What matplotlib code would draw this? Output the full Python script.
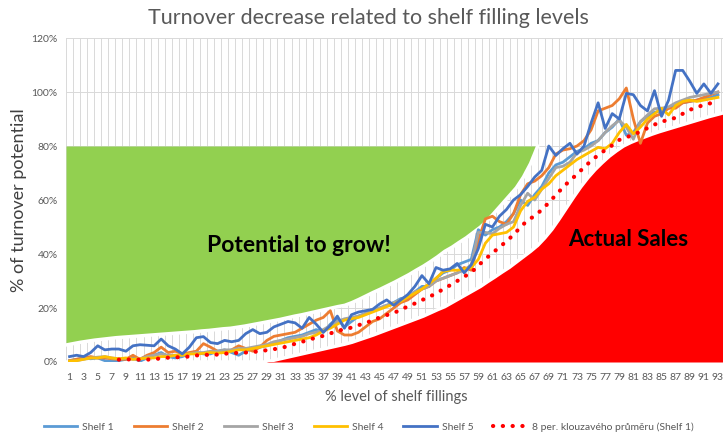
import numpy as np
import pandas as pd
import matplotlib
matplotlib.use("Agg")
import matplotlib.pyplot as plt
from matplotlib.lines import Line2D
from matplotlib.ticker import FuncFormatter

plt.rcParams["font.family"] = ["Lato", "DejaVu Sans"]

# --- data (values in % of turnover potential) ---
categories = list(range(1, 94))

shelf_1 = [0.5, 1.0, 1.5, 1.2, 1.5, 0.5, 0.3, 0.5, 1.0, 1.5,
           0.3, 1.5, 2.5, 3.5, 2.0, 1.5, 2.0, 3.0, 3.5, 3.0,
           3.0, 4.0, 4.5, 3.5, 2.5, 4.0, 5.0, 5.5, 6.0, 7.0,
           8.0, 9.0, 9.5, 10.0, 11.0, 12.0, 11.0, 14.0, 16.0, 13.0,
           15.0, 17.0, 18.0, 19.0, 20.0, 21.0, 22.0, 23.5, 24.0, 26.0,
           28.0, 28.0, 31.0, 33.0, 34.0, 36.0, 37.0, 38.0, 49.0, 47.0,
           49.0, 50.0, 52.0, 55.0, 60.0, 58.0, 62.0, 65.0, 70.0, 73.0,
           74.0, 76.0, 78.0, 79.0, 81.0, 82.0, 85.0, 87.0, 90.0, 84.0,
           85.0, 89.0, 91.0, 92.5, 93.0, 94.0, 95.0, 96.0, 96.5, 97.0,
           97.5, 98.0, 99.0]

shelf_2 = [0.5, 1.0, 1.5, 2.0, 1.5, 1.5, 1.2, 1.0, 1.0, 2.5,
           1.0, 2.5, 3.5, 5.5, 3.5, 4.0, 3.0, 3.5, 4.0, 6.8,
           5.5, 4.0, 3.5, 4.5, 6.0, 5.0, 4.0, 5.5, 8.0, 9.5,
           10.0, 10.5, 11.0, 12.5, 14.0, 15.5, 16.5, 19.0, 11.5, 10.0,
           10.0, 11.0, 13.0, 15.0, 16.0, 18.0, 20.0, 22.0, 23.0, 25.0,
           27.0, 28.0, 30.0, 31.0, 32.0, 33.0, 35.0, 34.0, 45.0, 53.0,
           54.0, 52.0, 51.0, 55.0, 62.0, 66.0, 67.0, 69.0, 72.0, 77.0,
           78.5, 79.0, 80.0, 82.0, 86.0, 93.0, 94.0, 95.0, 97.5, 101.5,
           90.0, 81.0, 88.5, 91.0, 92.0, 94.0, 94.0, 96.0, 96.5, 97.0,
           98.0, 99.0, 100.0]

shelf_3 = [0.3, 0.5, 1.0, 1.5, 1.8, 2.0, 1.5, 1.2, 1.3, 1.0,
           1.2, 2.0, 2.5, 3.0, 2.5, 2.5, 2.5, 3.0, 3.5, 3.5,
           4.0, 4.0, 4.5, 4.5, 5.0, 5.0, 5.5, 6.0, 6.5, 7.5,
           8.0, 8.5, 9.0, 9.5, 10.5, 11.0, 12.0, 13.5, 15.0, 16.0,
           16.5, 17.0, 18.0, 19.0, 20.0, 21.0, 22.0, 23.0, 24.5, 26.0,
           27.0, 28.0, 30.0, 31.0, 32.0, 33.0, 34.0, 36.0, 48.0, 48.0,
           47.5, 49.5, 51.0, 52.0, 58.0, 62.5, 60.0, 64.0, 68.0, 72.0,
           72.5, 74.0, 77.5, 78.5, 80.0, 82.0, 85.0, 87.5, 89.5, 87.0,
           82.5, 89.0, 91.5, 93.8, 94.0, 94.5, 96.0, 97.0, 98.0, 98.5,
           99.0, 99.5, 100.0]

shelf_4 = [0.3, 0.5, 1.0, 1.5, 1.5, 2.0, 1.5, 1.2, 1.5, 1.0,
           1.2, 1.5, 1.5, 2.0, 2.0, 2.5, 2.5, 3.0, 3.0, 3.2,
           3.5, 3.3, 3.5, 4.0, 4.5, 4.5, 5.0, 5.5, 6.0, 6.5,
           7.0, 7.5, 8.0, 8.5, 9.0, 10.0, 11.5, 12.5, 14.0, 15.5,
           16.0, 16.5, 17.5, 18.5, 19.5, 20.5, 21.5, 22.5, 24.0, 25.5,
           27.0, 29.0, 31.0, 33.5, 34.0, 34.0, 34.5, 35.0, 38.0, 44.0,
           47.0, 47.5, 48.0, 50.0, 56.0, 59.5, 61.0, 64.0, 66.0, 69.0,
           71.0, 73.0, 75.0, 76.5, 78.0, 79.5, 79.0, 81.0, 85.0, 88.0,
           84.5, 87.0, 90.0, 92.0, 94.0, 91.5, 95.0, 96.5, 97.0, 96.5,
           97.0, 97.5, 98.0]

shelf_5 = [2.0, 2.5, 2.0, 3.5, 6.0, 4.5, 4.8, 4.8, 4.0, 6.0,
           6.4, 6.2, 6.0, 8.5, 6.0, 4.8, 3.0, 5.5, 9.0, 9.4,
           7.2, 6.8, 8.0, 7.5, 8.0, 10.5, 12.0, 10.5, 11.0, 13.0,
           14.0, 15.0, 14.5, 12.5, 16.5, 14.0, 11.0, 13.5, 17.0, 12.5,
           17.5, 18.5, 19.0, 19.5, 21.5, 23.0, 21.0, 23.0, 25.0, 28.0,
           32.0, 29.0, 35.0, 34.0, 34.5, 36.5, 33.0, 36.0, 42.0, 51.0,
           50.0, 54.0, 56.5, 60.0, 62.0, 65.0, 68.5, 71.0, 80.0, 76.5,
           79.0, 81.0, 77.0, 80.0, 88.5, 96.0, 86.5, 92.0, 90.0, 99.5,
           99.0, 95.0, 93.0, 100.5, 91.0, 97.0, 108.0, 108.0, 104.0, 99.5,
           103.0, 99.5, 103.0]

actual_sales = [0.0] * 29 + [
           0.6, 1.2, 1.8, 2.4, 3.0, 3.6, 4.2, 4.8, 5.4, 6.0, 6.6,
           7.3, 8.2, 9.1, 10.0, 11.0, 12.0, 13.0, 14.0, 15.0, 16.0,
           17.0, 18.2, 19.4, 20.5, 22.0, 23.5, 25.0, 26.5, 28.0, 29.8,
           31.5, 33.3, 35.0, 37.0, 39.0, 41.0, 43.2, 46.0, 49.2, 53.0,
           57.0, 61.0, 64.8, 68.2, 71.2, 73.8, 76.2, 78.2, 80.0, 81.3,
           82.4, 83.4, 84.4, 85.3, 86.1, 86.9, 87.7, 88.5, 89.3, 90.1,
           90.9, 91.6, 92.3]

# lower edge of the green "potential" band, which tops out at 80 %
potential_floor = [6.3, 6.8, 7.3, 7.7, 8.1, 8.4, 8.7, 9.0, 9.2, 9.4,
                   9.6, 9.8, 10.0, 10.2, 10.4, 10.6, 10.8, 11.0, 11.2, 11.5,
                   11.7, 12.0, 12.3, 12.5, 12.9, 13.3, 13.8, 14.3, 14.8, 15.3,
                   15.8, 16.4, 17.0, 17.5, 18.1, 18.7, 19.3, 19.9, 20.5, 21.0,
                   22.0, 23.2, 24.5, 25.8, 27.0, 28.3, 29.6, 31.0, 32.4, 34.0,
                   35.5, 37.2, 39.0, 41.0, 42.5, 44.3, 46.0, 48.0, 50.0, 52.5,
                   55.5, 58.5, 61.5, 64.5, 68.5, 73.5, 80.0]
potential_ceiling = 80

shelf_names = ["Shelf 1", "Shelf 2", "Shelf 3", "Shelf 4", "Shelf 5"]
shelf_colors = ["#5B9BD5", "#ED7D31", "#A5A5A5", "#FFC000", "#4472C4"]
shelves = [shelf_1, shelf_2, shelf_3, shelf_4, shelf_5]
ma_label = "8 per. klouzavého průměru (Shelf 1)"

TEXT_GRAY = "#595959"
GRID = "#D9D9D9"

# 8-period moving average trendline of Shelf 1 (as in the Excel chart)
ma_shelf_1 = pd.Series(shelf_1, index=categories).rolling(8).mean()

# --- figure ---
fig = plt.figure(figsize=(7.23, 4.34), dpi=100)
ax = fig.add_axes([0.0913, 0.1659, 0.9095, 0.7465])
ax.set_xlim(0.5, 93.8)
ax.set_ylim(0, 120)

# area series sit edge to edge across the plot (secondary category axis in Excel)
area_x = np.linspace(0.5, 93.8, len(actual_sales))
gx = area_x[:len(potential_floor)]
ax.fill_between(gx, potential_floor, potential_ceiling, color="#92D050",
                lw=0, zorder=1)
ax.fill_between(area_x, 0, actual_sales, color="#FF0000", lw=0, zorder=1)
ax.plot(gx, potential_floor, color="white", lw=2.5, zorder=1.5)
ax.plot(area_x, actual_sales, color="white", lw=2.5, zorder=1.5)

for vals, name, col in zip(shelves, shelf_names, shelf_colors):
    ax.plot(categories, vals, color=col, lw=2.0, label=name, zorder=2,
            solid_joinstyle="round")

ax.plot(ma_shelf_1.index, ma_shelf_1.values, color="#FF0000", lw=3.0,
        linestyle=(0, (0.05, 2.3)), dash_capstyle="round", zorder=3)

ax.text(33.5, 43.3, "Potential to grow!", fontsize=16.5, fontweight="bold",
        ha="center", va="center", color="black", zorder=4)
ax.text(80.3, 45.5, "Actual Sales", fontsize=16, fontweight="bold",
        ha="center", va="center", color="black", zorder=4)

# --- axes styling ---
ax.set_xticks(categories[::2])
ax.set_xticks(np.arange(0.5, 94, 1), minor=True)
ax.set_yticks(range(0, 121, 20))
ax.yaxis.set_major_formatter(FuncFormatter(lambda v, p: f"{v:.0f}%"))
ax.tick_params(axis="both", which="both", length=0, colors=TEXT_GRAY,
               labelsize=7.5)
ax.tick_params(axis="x", pad=8)
ax.tick_params(axis="y", pad=6)
ax.grid(True, which="minor", axis="x", color=GRID, lw=0.7)
ax.grid(True, which="major", axis="y", color=GRID, lw=0.7)
ax.set_axisbelow(True)
for s in ax.spines.values():
    s.set_visible(False)

fig.text(0.509, 0.958, "Turnover decrease related to shelf filling levels",
         ha="center", va="center", fontsize=15.5, color=TEXT_GRAY)
fig.text(0.548, 0.085, "% level of shelf fillings", ha="center", va="center",
         fontsize=10.5, color=TEXT_GRAY)
fig.text(0.026, 0.54, "% of turnover potential", ha="center", va="center",
         rotation=90, fontsize=13, color="#404040")

handles = [Line2D([], [], color=c, lw=2.0) for c in shelf_colors]
handles.append(Line2D([], [], color="#FF0000", lw=3.0,
                      linestyle=(0, (0.05, 2.3)), dash_capstyle="round"))
leg = fig.legend(handles, shelf_names + [ma_label], loc="center",
                 bbox_to_anchor=(0.51, 0.016), ncol=6, frameon=False,
                 fontsize=7.5, handlelength=3.2, handletextpad=0.5,
                 columnspacing=1.9)
for t in leg.get_texts():
    t.set_color(TEXT_GRAY)

fig.savefig("out.png", dpi=100)
